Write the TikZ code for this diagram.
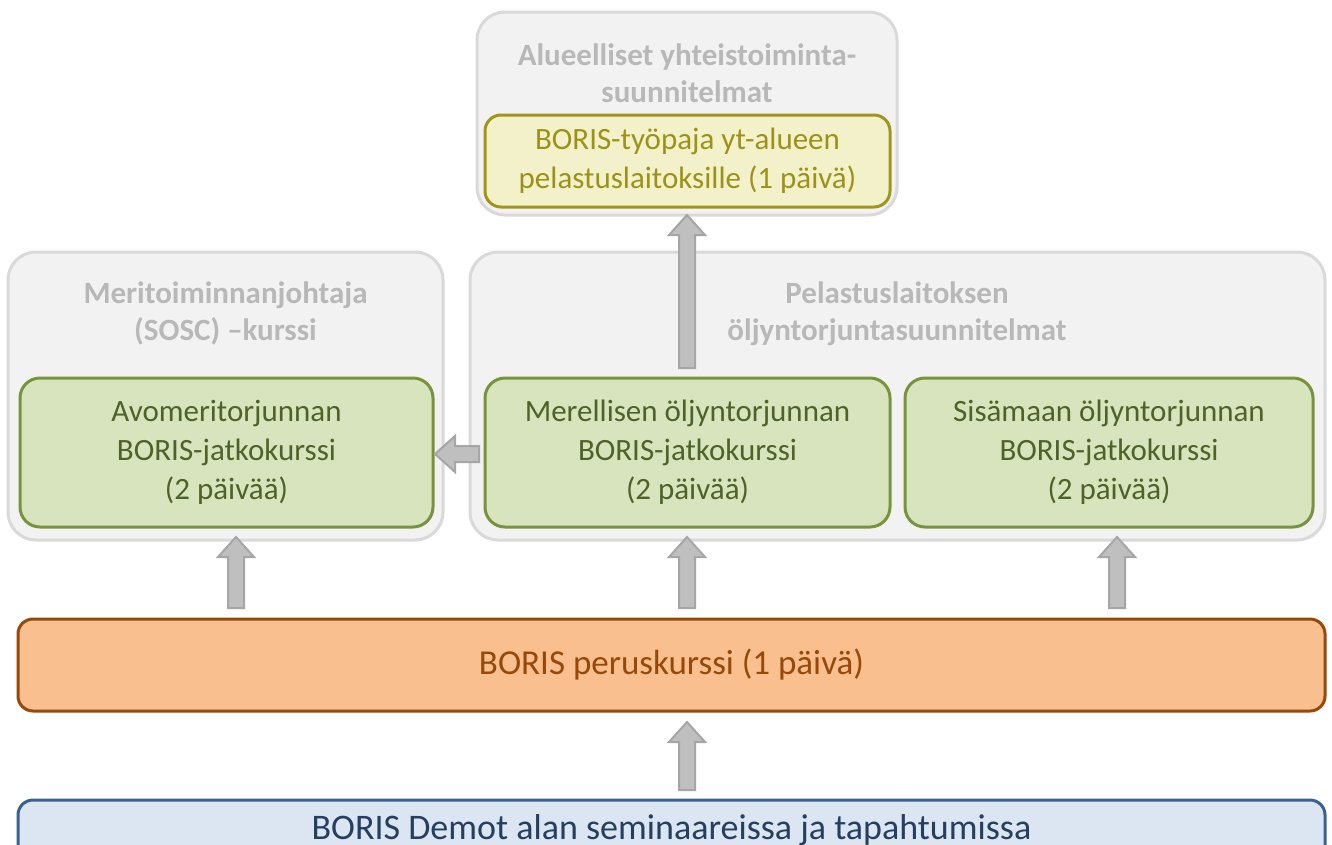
\documentclass[tikz,border=0pt]{standalone}
\usepackage{fontspec}
\setmainfont{Carlito}
\usetikzlibrary{calc}

\definecolor{planfill}{HTML}{F2F2F2}
\definecolor{planline}{HTML}{D9D9D9}
\definecolor{plantext}{HTML}{B8B8B8}
\definecolor{coursefill}{HTML}{D7E4BD}
\definecolor{courseline}{HTML}{77933C}
\definecolor{coursetext}{HTML}{4F6228}
\definecolor{workfill}{HTML}{F3F1C9}
\definecolor{workline}{HTML}{A0961C}
\definecolor{worktext}{HTML}{9C921A}
\definecolor{basefill}{HTML}{F9BF8F}
\definecolor{baseline}{HTML}{984807}
\definecolor{demofill}{HTML}{DCE6F2}
\definecolor{demoline}{HTML}{3B6092}
\definecolor{demotext}{HTML}{243F60}
\definecolor{arrowfill}{HTML}{BFBFBF}
\definecolor{arrowline}{HTML}{A6A6A6}

\begin{document}
\begin{tikzpicture}[
  x=1pt,
  y=-1pt,
  font=\fontsize{31}{39}\selectfont,
  every node/.style={align=center, inner sep=0, outer sep=0},
  plan/.style={draw=planline, fill=planfill, line width=3pt, rounded corners=28pt},
  plantitle/.style={text=plantext, font=\fontsize{31}{37}\selectfont\bfseries},
  course/.style={draw=courseline, fill=coursefill, text=coursetext, line width=3pt,
    rounded corners=20pt, minimum width=405pt, minimum height=149pt},
  workshop/.style={draw=workline, fill=workfill, text=worktext, line width=3pt,
    rounded corners=16pt, minimum width=405pt, minimum height=92pt},
  basecourse/.style={draw=baseline, fill=basefill, text=baseline, line width=3pt,
    rounded corners=15pt, minimum width=1307pt, minimum height=92pt,
    font=\fontsize{35}{42}\selectfont},
  demo/.style={draw=demoline, fill=demofill, text=demotext, line width=3pt,
    rounded corners=15pt, minimum width=1307pt, minimum height=60pt,
    font=\fontsize{36}{42}\selectfont},
  blockarrow/.style={draw=arrowline, fill=arrowfill, line width=2pt,
    to path={let \p1=(\tikztostart), \p2=(\tikztotarget),
      \n1={atan2(\y2-\y1,\x2-\x1)}, \n2={veclen(\x2-\x1,\y2-\y1)} in
      ($(\p1)+(\n1+90:8pt)$)
      -- ($(\p1)+(\n1:\n2-20pt)+(\n1+90:8pt)$)
      -- ($(\p1)+(\n1:\n2-20pt)+(\n1+90:18pt)$)
      -- (\p2)
      -- ($(\p1)+(\n1:\n2-20pt)+(\n1-90:18pt)$)
      -- ($(\p1)+(\n1:\n2-20pt)+(\n1-90:8pt)$)
      -- ($(\p1)+(\n1-90:8pt)$) -- cycle}}
  ]

  \clip (0,0) rectangle (1332,844);
  \fill[white] (0,0) rectangle (1332,844);

  % planning levels
  \node [plan, minimum width=420pt, minimum height=203pt] (regplan) at (687,113.5) {};
  \node [plantitle] (regtitle) at (687,73.5) {Alueelliset yhteistoiminta-\\suunnitelmat};
  \node [workshop] (workshop) at (687.5,161) {BORIS-työpaja yt-alueen\\pelastuslaitoksille (1 päivä)};

  \node [plan, minimum width=435pt, minimum height=288pt] (sosc) at (225.5,396) {};
  \node [plantitle] (socstitle) at (225.5,313.5) {Meritoiminnanjohtaja\\(SOSC) –kurssi};

  \node [plan, minimum width=855pt, minimum height=288pt] (oilplan) at (897.5,396) {};
  \node [plantitle] (oiltitle) at (897,313.5) {Pelastuslaitoksen\\öljyntorjuntasuunnitelmat};

  % courses
  \node [course, minimum width=413pt] (avomeri) at (226.5,452.5) {Avomeritorjunnan\\BORIS-jatkokurssi\\(2 päivää)};
  \node [course] (merell) at (687.5,452.5) {Merellisen öljyntorjunnan\\BORIS-jatkokurssi\\(2 päivää)};
  \node [course, minimum width=408pt] (sisamaa) at (1109,452.5) {Sisämaan öljyntorjunnan\\BORIS-jatkokurssi\\(2 päivää)};

  \node [basecourse] (perus) at (671.5,665) {BORIS peruskurssi (1 päivä)};
  \node [demo] (demot) at (671.5,830) {BORIS Demot alan seminaareissa ja tapahtumissa};

  % arrow ends
  \coordinate (up1s) at (236,608);  \coordinate (up1e) at (236,537);
  \coordinate (up2s) at (687,608);  \coordinate (up2e) at (687,537);
  \coordinate (up3s) at (1117,608); \coordinate (up3e) at (1117,537);
  \coordinate (up4s) at (687,790);  \coordinate (up4e) at (687,722);
  \coordinate (up5s) at (687,368);  \coordinate (up5e) at (687,215);
  \coordinate (lfts) at (479,454);  \coordinate (lfte) at (435,454);

  \draw [blockarrow] (up1s) to (up1e);
  \draw [blockarrow] (up2s) to (up2e);
  \draw [blockarrow] (up3s) to (up3e);
  \draw [blockarrow] (up4s) to (up4e);
  \draw [blockarrow] (up5s) to (up5e);
  \draw [blockarrow] (lfts) to (lfte);

\end{tikzpicture}
\end{document}
